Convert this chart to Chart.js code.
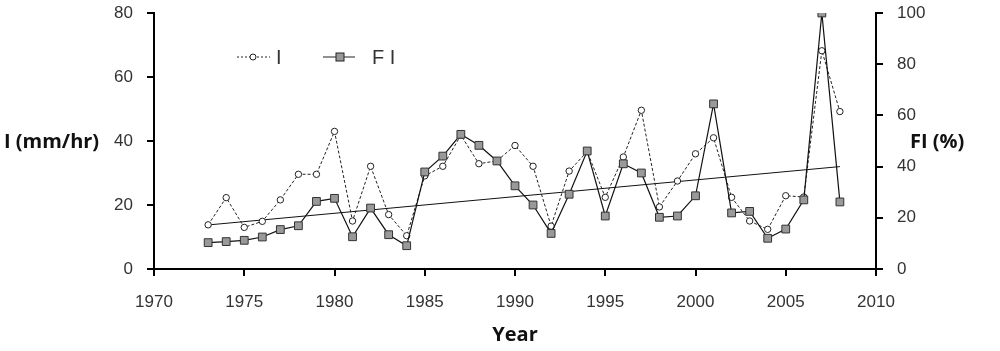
<!DOCTYPE html>
<html>
<head>
<meta charset="utf-8">
<script src="https://cdn.jsdelivr.net/npm/chart.js@4.4.0/dist/chart.umd.min.js"></script>
<style>
  html, body { margin: 0; padding: 0; background: #fff; }
  #wrap { width: 1000px; height: 351px; }
</style>
</head>
<body>
<div id="wrap"><canvas id="chart" width="1000" height="351"></canvas></div>
<script>
// data
const years = [1973, 1974, 1975, 1976, 1977, 1978, 1979, 1980, 1981, 1982, 1983, 1984,
  1985, 1986, 1987, 1988, 1989, 1990, 1991, 1992, 1993, 1994, 1995, 1996,
  1997, 1998, 1999, 2000, 2001, 2002, 2003, 2004, 2005, 2006, 2007, 2008];
// I (mm/hr), left axis
const iValues = [13.8, 22.3, 13, 14.9, 21.6, 29.6, 29.6, 43, 15, 32.1, 17, 10.4,
  29.1, 32.1, 41.8, 32.9, 33.8, 38.6, 32.1, 13.4, 30.6, 36.7, 22.4, 35,
  49.6, 19.4, 27.5, 36, 41, 22.4, 15, 12.4, 22.9, 22.5, 68.2, 49.2];
// FI (%), right axis
const fiValues = [10.3, 10.7, 11.2, 12.5, 15.4, 16.9, 26.4, 27.6, 12.6, 23.8, 13.4, 9.1,
  37.9, 44.1, 52.6, 48.3, 42.2, 32.5, 25, 13.9, 29.2, 46.1, 20.7, 41.1,
  37.5, 20.2, 20.7, 28.6, 64.5, 21.9, 22.5, 12, 15.6, 27, 100, 26.2];
// trend line of FI
const trendYears = [1973, 2008];
const trendValues = [17.2, 40];

const leftTicks = [0, 20, 40, 60, 80];
const rightTicks = [0, 20, 40, 60, 80, 100];

const toPoints = (xs, ys) => xs.map((x, i) => ({ x: x, y: ys[i] }));

const tickFont = { family: 'Liberation Sans', size: 17 };
const textColor = '#333';

// y scales: fixed width, no extra padding for half labels
const fitY = w => s => {
  s.width = w;
  s.paddingTop = 0;
  s.paddingBottom = 0;
};

// axis titles that sit level, and the legend inside the plot
const extras = {
  id: 'extras',
  afterDraw(chart) {
    const ctx = chart.ctx;
    ctx.save();
    ctx.fillStyle = '#111';
    ctx.font = 'bold 20px "Open Sans"';
    ctx.textBaseline = 'middle';
    ctx.textAlign = 'left';
    ctx.fillText('I (mm/hr)', 4, 142);
    ctx.fillText('FI (%)', 910, 142);

    // legend
    const ly = 57;
    ctx.strokeStyle = '#222';
    ctx.lineWidth = 1;
    ctx.setLineDash([2, 2]);
    ctx.beginPath(); ctx.moveTo(237, ly); ctx.lineTo(270, ly); ctx.stroke();
    ctx.setLineDash([]);
    ctx.fillStyle = '#fff';
    ctx.beginPath(); ctx.arc(253, ly, 3, 0, Math.PI * 2); ctx.fill(); ctx.stroke();
    ctx.beginPath(); ctx.moveTo(323, ly); ctx.lineTo(355, ly); ctx.stroke();
    ctx.fillStyle = '#999';
    ctx.fillRect(336, ly - 4, 8, 8);
    ctx.strokeRect(336, ly - 4, 8, 8);
    ctx.fillStyle = '#333';
    ctx.font = '20px "Liberation Sans"';
    ctx.fillText('I', 276, ly + 1);
    ctx.fillText('F I', 372, ly + 1);
    ctx.restore();
  }
};

const ctx = document.getElementById('chart').getContext('2d');
const myChart = new Chart(ctx, {
  type: 'line',
  data: {
    datasets: [{
      label: 'F I',
      data: toPoints(years, fiValues),
      yAxisID: 'yR',
      borderColor: '#111',
      borderWidth: 1.2,
      pointStyle: 'rect',
      pointRadius: 5.5,
      pointBackgroundColor: '#999',
      pointBorderColor: '#333',
      pointBorderWidth: 1,
      order: 0
    }, {
      label: 'I',
      data: toPoints(years, iValues),
      yAxisID: 'yL',
      borderColor: '#222',
      borderWidth: 1,
      borderDash: [3, 2],
      pointStyle: 'circle',
      pointRadius: 3.2,
      pointBackgroundColor: '#fff',
      pointBorderColor: '#222',
      pointBorderWidth: 1,
      order: 1
    }, {
      label: 'trend',
      data: toPoints(trendYears, trendValues),
      yAxisID: 'yR',
      borderColor: '#111',
      borderWidth: 1,
      pointRadius: 0,
      order: 2
    }]
  },
  options: {
    responsive: false,
    animation: false,
    layout: { padding: { top: 13, left: 0, right: 0, bottom: 0 } },
    plugins: { legend: { display: false }, tooltip: { enabled: false } },
    scales: {
      x: {
        type: 'linear',
        min: 1970, max: 2010,
        afterFit: s => { s.height = 82; s.paddingLeft = 0; s.paddingRight = 0; },
        ticks: { stepSize: 5, font: tickFont, color: textColor, padding: 16, callback: v => String(v) },
        grid: { drawOnChartArea: false, tickLength: 7, color: '#000', lineWidth: 2 },
        border: { color: '#000', width: 2 },
        title: { display: true, text: 'Year', font: { family: 'Open Sans', size: 20, weight: 'bold' }, color: '#111', padding: { top: 8 } }
      },
      yL: {
        position: 'left',
        min: 0, max: 80,
        afterFit: fitY(154),
        afterBuildTicks: s => { s.ticks = leftTicks.map(v => ({ value: v })); },
        ticks: { font: tickFont, color: textColor, padding: 14 },
        grid: { drawOnChartArea: false, tickLength: 7, color: '#000', lineWidth: 2 },
        border: { color: '#000', width: 2 }
      },
      yR: {
        position: 'right',
        min: 0, max: 100,
        afterFit: fitY(124),
        afterBuildTicks: s => { s.ticks = rightTicks.map(v => ({ value: v })); },
        ticks: { font: tickFont, color: textColor, padding: 14 },
        grid: { drawOnChartArea: false, tickLength: 7, color: '#000', lineWidth: 2 },
        border: { color: '#000', width: 2 }
      }
    }
  },
  plugins: [extras]
});
</script>
</body>
</html>
